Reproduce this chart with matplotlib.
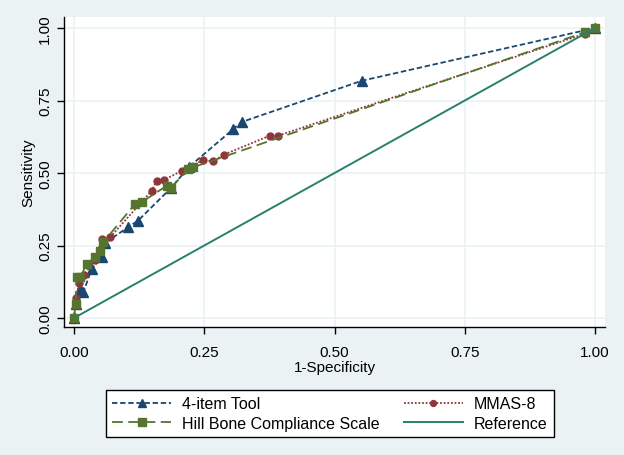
import matplotlib
matplotlib.use("Agg")
import matplotlib.pyplot as plt

plt.rcParams['font.family'] = ['Liberation Sans', 'DejaVu Sans']

# ROC points (1-specificity, sensitivity)
tool4_x = [0.0, 0.003, 0.012, 0.018, 0.034, 0.053, 0.06, 0.104, 0.123, 0.187, 0.22, 0.306, 0.322, 0.552, 1.0]
tool4_y = [0.0, 0.048, 0.10, 0.09, 0.169, 0.209, 0.26, 0.313, 0.336, 0.45, 0.52, 0.652, 0.676, 0.818, 1.0]

mmas_x = [0.0, 0.004, 0.01, 0.02, 0.04, 0.053, 0.069, 0.149, 0.159, 0.173, 0.207, 0.248, 0.267, 0.287, 0.376, 0.392, 0.98, 1.0]
mmas_y = [0.0, 0.07, 0.12, 0.15, 0.20, 0.272, 0.278, 0.439, 0.473, 0.476, 0.508, 0.545, 0.54, 0.563, 0.629, 0.629, 0.98, 1.0]

hill_x = [0.0, 0.003, 0.005, 0.012, 0.024, 0.04, 0.05, 0.056, 0.117, 0.13, 0.178, 0.187, 0.219, 0.229, 0.98, 1.0]
hill_y = [0.0, 0.05, 0.14, 0.14, 0.186, 0.209, 0.232, 0.261, 0.393, 0.40, 0.456, 0.45, 0.514, 0.52, 0.985, 1.0]

ref_x = [0.0, 1.0]
ref_y = [0.0, 1.0]

ticks = [0.0, 0.25, 0.5, 0.75, 1.0]
tick_labels = ["0.00", "0.25", "0.50", "0.75", "1.00"]

bg = "#EAF2F3"
navy = "#1A476F"
maroon = "#90353B"
green = "#55752F"
teal = "#2A7F6C"

fig = plt.figure(figsize=(6.24, 4.56), dpi=100, facecolor=bg)
ax = fig.add_axes([0.1026, 0.2807, 0.867, 0.6798])
ax.set_facecolor("white")

l1, = ax.plot(tool4_x, tool4_y, color=navy, linestyle=(0, (3, 1.5)), linewidth=1.3,
              marker="^", markersize=7, label="4-item Tool")
l2, = ax.plot(mmas_x, mmas_y, color=maroon, linestyle=(0, (1, 1)), linewidth=1.3,
              marker="o", markersize=5, label="MMAS-8")
l3, = ax.plot(hill_x, hill_y, color=green, linestyle=(0, (6, 3)), linewidth=1.3,
              marker="s", markersize=6, label="Hill Bone Compliance Scale")
l4, = ax.plot(ref_x, ref_y, color=teal, linewidth=1.4, label="Reference")

ax.set_xlim(-0.0192, 1.0192)
ax.set_ylim(-0.031, 1.038)
ax.set_xticks(ticks)
ax.set_xticklabels(tick_labels)
ax.set_yticks(ticks)
ax.set_yticklabels(tick_labels, rotation=90, va="center")
ax.tick_params(labelsize=11, length=5, width=1, direction="out", colors="black")
ax.tick_params(axis="x", pad=8)
ax.grid(True, color=bg, linewidth=1.2)
ax.set_axisbelow(True)
for side in ["top", "right"]:
    ax.spines[side].set_visible(False)
for side in ["left", "bottom"]:
    ax.spines[side].set_color("black")
    ax.spines[side].set_linewidth(1)

ax.set_xlabel("1-Specificity", fontsize=11, labelpad=1)
ax.set_ylabel("Sensitivity", fontsize=11, labelpad=2)

leg = fig.legend(handles=[l1, l3, l2, l4], ncol=2, loc="center",
                 bbox_to_anchor=(330 / 624, 1 - 414.5 / 456),
                 fontsize=11.5, frameon=True, fancybox=False, markerscale=0.85,
                 edgecolor="black", framealpha=1, borderpad=0.4, labelspacing=0.3,
                 handlelength=3.7, handletextpad=0.7, columnspacing=1.5,
                 borderaxespad=0)
leg.get_frame().set_linewidth(1)

fig.savefig("out.png", dpi=100, facecolor=bg)
